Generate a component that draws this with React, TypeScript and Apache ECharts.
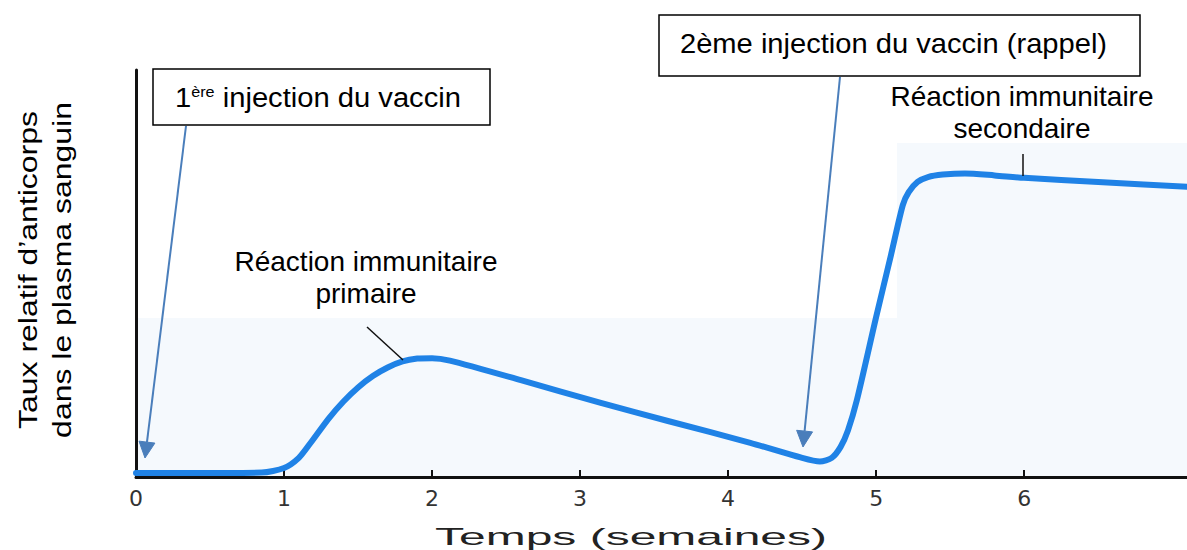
import React, { useEffect, useRef } from "react";
import * as echarts from "echarts";

// ---- data ----
const weeks = [
  0, 0.5, 0.85, 1.0, 1.1, 1.18, 1.3, 1.4, 1.5, 1.6, 1.7, 1.8, 1.9, 2.0, 2.12, 2.6, 3.14, 3.6,
  4.15, 4.49, 4.62, 4.7, 4.76, 4.81, 4.87, 5.0, 5.1, 5.18, 5.22, 5.28, 5.35, 5.45, 5.6, 5.8,
  6.0, 6.5, 7.1,
];
const antibodies = [
  1.0, 1.0, 1.1, 2.2, 4.7, 8.4, 14.3, 18.5, 22.0, 24.8, 26.9, 28.4, 29.1, 29.2, 28.6, 23.8, 18.2, 13.7,
  8.4, 4.8, 3.8, 4.7, 7.4, 11.5, 18.9, 39.3, 54.5, 66.8, 70.0, 72.5, 73.7, 74.3, 74.6, 74.1,
  73.5, 72.5, 71.3,
];
const tickLabels = [0, 1, 2, 3, 4, 5, 6];
const tickMarks = [1, 2, 3, 4, 5, 6];

const yTitle = "Taux relatif d’anticorps\ndans le plasma sanguin";
const xTitle = "Temps (semaines)";
const firstInjection = ["1", "ère", " injection du vaccin"];
const secondInjection = "2ème injection du vaccin (rappel)";
const primaryLabel = "Réaction immunitaire\nprimaire";
const secondaryLabel = "Réaction immunitaire\nsecondaire";

const FONT = "'Liberation Sans', Arial, sans-serif";
const ARROW = "#4a7ebb";

function arrow(x1: number, y1: number, x2: number, y2: number, z: number) {
  const dx = x2 - x1;
  const dy = y2 - y1;
  const len = Math.sqrt(dx * dx + dy * dy);
  const ux = dx / len;
  const uy = dy / len;
  const hl = 16;
  const hw = 8;
  const bx = x2 - hl * ux;
  const by = y2 - hl * uy;
  const nx = -uy;
  const ny = ux;
  return [
    {
      type: "line",
      z,
      shape: { x1, y1, x2: bx, y2: by },
      style: { stroke: ARROW, lineWidth: 2 },
    },
    {
      type: "polygon",
      z,
      shape: {
        points: [
          [x2, y2],
          [bx + hw * nx, by + hw * ny],
          [bx - hw * nx, by - hw * ny],
        ],
      },
      style: { fill: ARROW, stroke: ARROW, lineWidth: 1 },
    },
  ];
}

export default function App() {
  const ref = useRef<HTMLDivElement>(null);

  useEffect(() => {
    if (!ref.current) return;
    const chart = echarts.init(ref.current, undefined, { renderer: "svg" });

    const graphic: any[] = [
      // faint scanned background tint
      { type: "rect", z: 0, shape: { x: 137, y: 318, width: 760, height: 158 }, style: { fill: "#f5f9fd" } },
      { type: "rect", z: 0, shape: { x: 897, y: 143, width: 290, height: 333 }, style: { fill: "#f5f9fd" } },
      // y title
      {
        type: "text",
        z: 20,
        x: 45,
        y: 270,
        rotation: Math.PI / 2,
        scaleX: 1.23,
        style: {
          text: yTitle,
          fontFamily: FONT,
          fontSize: 26,
          lineHeight: 34,
          fill: "#000",
          align: "center",
          verticalAlign: "middle",
        },
      },
      // x title
      {
        type: "text",
        z: 20,
        x: 631,
        y: 537,
        scaleX: 2.0,
        style: {
          text: xTitle,
          fontFamily: FONT,
          fontSize: 24,
          fill: "#222",
          align: "center",
          verticalAlign: "middle",
        },
      },
      // box 1
      {
        type: "rect",
        z: 30,
        shape: { x: 153, y: 69, width: 337, height: 56 },
        style: { fill: "#fff", stroke: "#000", lineWidth: 1.5 },
      },
      {
        type: "text",
        z: 31,
        x: 175,
        y: 98,
        scaleX: 1.08,
        style: {
          text: `{a|${firstInjection[0]}}{s|${firstInjection[1]}}{a|${firstInjection[2]}}`,
          align: "left",
          verticalAlign: "middle",
          rich: {
            a: { fontFamily: FONT, fontSize: 27, fill: "#000" },
            s: { fontFamily: FONT, fontSize: 15, fill: "#000", verticalAlign: "top" },
          },
        },
      },
      // box 2
      {
        type: "rect",
        z: 30,
        shape: { x: 659, y: 15, width: 481, height: 61 },
        style: { fill: "#fff", stroke: "#000", lineWidth: 1.5 },
      },
      {
        type: "text",
        z: 31,
        x: 680,
        y: 43,
        scaleX: 1.04,
        style: {
          text: secondInjection,
          fontFamily: FONT,
          fontSize: 28,
          fill: "#000",
          align: "left",
          verticalAlign: "middle",
        },
      },
      // reaction labels
      {
        type: "text",
        z: 20,
        x: 366,
        y: 277,
        style: {
          text: primaryLabel,
          fontFamily: FONT,
          fontSize: 28,
          lineHeight: 32,
          fill: "#000",
          align: "center",
          verticalAlign: "middle",
        },
      },
      {
        type: "text",
        z: 20,
        x: 1022,
        y: 112,
        style: {
          text: secondaryLabel,
          fontFamily: FONT,
          fontSize: 28,
          lineHeight: 32,
          fill: "#000",
          align: "center",
          verticalAlign: "middle",
        },
      },
      // leader lines
      { type: "line", z: 20, shape: { x1: 367, y1: 327, x2: 403, y2: 360 }, style: { stroke: "#111", lineWidth: 1.5 } },
      { type: "line", z: 20, shape: { x1: 1023, y1: 154, x2: 1023, y2: 176 }, style: { stroke: "#111", lineWidth: 1.5 } },
      ...arrow(186, 126, 145, 458, 25),
      ...arrow(840, 77, 803, 447, 25),
    ];

    chart.setOption({
      animation: false,
      backgroundColor: "#fff",
      grid: { left: 136, right: 0, top: 70, bottom: 73, containLabel: false, outerBoundsMode: "none" },
      xAxis: {
        type: "value",
        min: 0,
        max: 7.1,
        interval: 1,
        axisLine: { show: true, lineStyle: { color: "#111", width: 3 } },
        axisTick: { show: true, inside: true, length: 7, customValues: tickMarks, lineStyle: { color: "#111", width: 2 } },
        axisLabel: {
          customValues: tickLabels,
          fontFamily: "'DejaVu Sans', sans-serif",
          fontSize: 22,
          color: "#333",
          margin: 10,
          formatter: (v: number) => String(v),
        },
        splitLine: { show: false },
      },
      yAxis: {
        type: "value",
        min: 0,
        max: 100,
        axisLine: { show: true, lineStyle: { color: "#111", width: 3 } },
        axisTick: { show: false },
        axisLabel: { show: false },
        splitLine: { show: false },
      },
      series: [
        {
          type: "line",
          z: 5,
          data: weeks.map((w, i) => [w, antibodies[i]]),
          showSymbol: false,
          smooth: 0.25,
          lineStyle: { color: "#1f82e6", width: 6, cap: "round", join: "round" },
        },
      ],
      graphic,
    });

    return () => chart.dispose();
  }, []);

  return (
    <div
      ref={ref}
      style={{ position: "fixed", left: 0, top: 0, width: 1187, height: 550 }}
    />
  );
}
